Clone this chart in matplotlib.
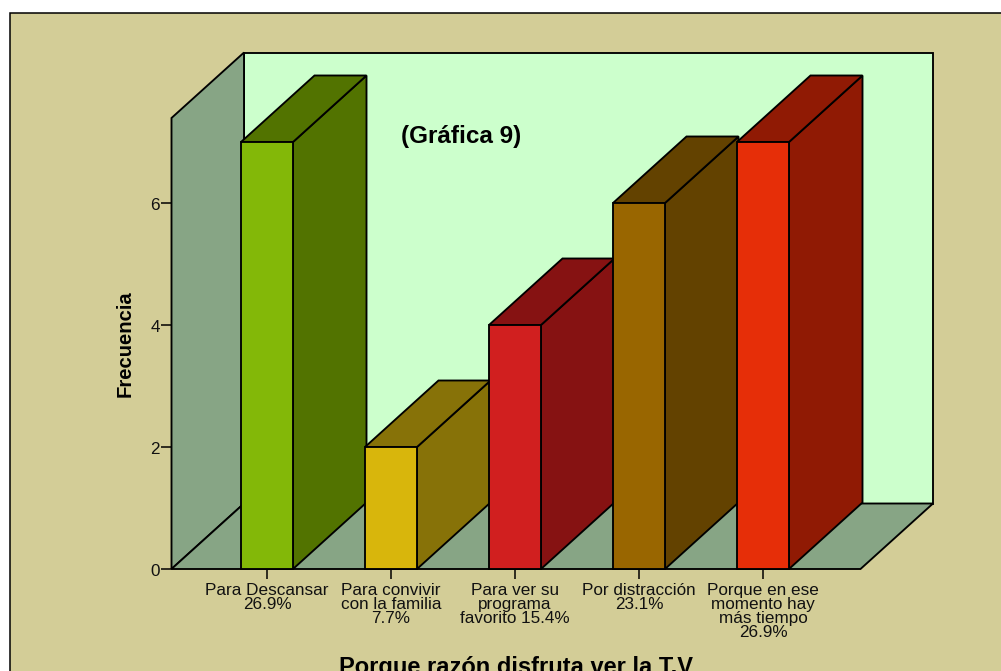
import matplotlib
matplotlib.use("Agg")
import matplotlib.pyplot as plt
from matplotlib.patches import Polygon, Rectangle
from matplotlib.transforms import ScaledTranslation

categories = ["Para Descansar\n26.9%", "Para convivir\ncon la familia\n7.7%",
              "Para ver su\nprograma\nfavorito 15.4%", "Por distracción\n23.1%",
              "Porque en ese\nmomento hay\nmás tiempo\n26.9%"]
values = [7, 2, 4, 6, 7]
front_colors = ["#83B808", "#D8B60C", "#D11F1F", "#996600", "#E62E08"]
side_colors = ["#527300", "#877208", "#861212", "#634200", "#901A04"]
yticks = [0, 2, 4, 6]

W, H = 1001, 671
plt.rcParams["font.family"] = ["Liberation Sans", "DejaVu Sans"]
fig = plt.figure(figsize=(W / 100, H / 100), dpi=100, facecolor="white")

# chart background panel, open towards right and bottom edges
fig.add_artist(Rectangle((9.5 / W, -5 / H), (W + 10) / W, (H - 12.5 + 5) / H,
                         transform=fig.transFigure, facecolor="#D3CD97",
                         edgecolor="black", linewidth=1.1, zorder=-1))

L, R, B, T = 171.5, 860.5, 569.0, 118.0
ax = fig.add_axes([L / W, (H - B) / H, (R - L) / W, (B - T) / H])
px_x, px_y = 124.0, 61.0
x0 = 267.0
ax.set_xlim((L - x0) / px_x, (R - x0) / px_x)
ax.set_ylim(0, (B - T) / px_y)
ax.patch.set_visible(False)
for s in ax.spines.values():
    s.set_visible(False)

dx, dy = 72.5 / px_x, 65.5 / px_y
bar_dx, bar_dy = 73.5 / px_x, 66.5 / px_y
half = 26.0 / px_x
xl, xr = ax.get_xlim()
yt = ax.get_ylim()[1]
lw = 1.35
edge = dict(edgecolor="black", linewidth=lw, clip_on=False, joinstyle="miter")

# back wall, left wall, floor
ax.add_patch(Polygon([(xl + dx, dy), (xr + dx, dy), (xr + dx, yt + dy), (xl + dx, yt + dy)],
                     facecolor="#CCFFCC", zorder=1, **edge))
ax.add_patch(Polygon([(xl, 0), (xl + dx, dy), (xl + dx, yt + dy), (xl, yt)],
                     facecolor="#87A585", zorder=1.1, **edge))
ax.add_patch(Polygon([(xl, 0), (xr, 0), (xr + dx, dy), (xl + dx, dy)],
                     facecolor="#87A585", zorder=1.2, **edge))

# bars, back faces first so each later bar covers the earlier side
for i, (v, fc, sc) in enumerate(zip(values, front_colors, side_colors)):
    a, b = i - half, i + half
    z = 2 + i
    ax.add_patch(Polygon([(b, 0), (b + bar_dx, bar_dy), (b + bar_dx, v + bar_dy), (b, v)],
                         facecolor=sc, zorder=z, **edge))
    ax.add_patch(Polygon([(a, v), (b, v), (b + bar_dx, v + bar_dy), (a + bar_dx, v + bar_dy)],
                         facecolor=sc, zorder=z, **edge))
    ax.add_patch(Rectangle((a, 0), b - a, v, facecolor=fc, zorder=z + 0.5, **edge))

ax.set_yticks(yticks)
ax.set_xticks(range(len(categories)))
ax.set_xticklabels(categories, fontsize=12.3, color="#111111", linespacing=0.93)
ax.tick_params(axis="y", length=8, width=1.1, labelsize=12.3, pad=0.5, labelcolor="#111111")
ax.tick_params(axis="x", length=7.5, width=1.1, pad=2.4)
for lab in ax.get_yticklabels():
    lab.set_transform(lab.get_transform() + ScaledTranslation(0, -1.5 / 100, fig.dpi_scale_trans))

ax.set_ylabel("Frecuencia", fontsize=14.6, fontweight="bold", labelpad=11)
ax.set_xlabel("Porque razón disfruta ver la T.V", fontsize=17, fontweight="bold", labelpad=11)
ax.text((461.5 - x0) / px_x, (B - 136) / px_y, "(Gráfica 9)", fontsize=17.5, fontweight="bold",
        ha="center", va="center", zorder=20)

fig.savefig("out.png", dpi=100, facecolor="white")
